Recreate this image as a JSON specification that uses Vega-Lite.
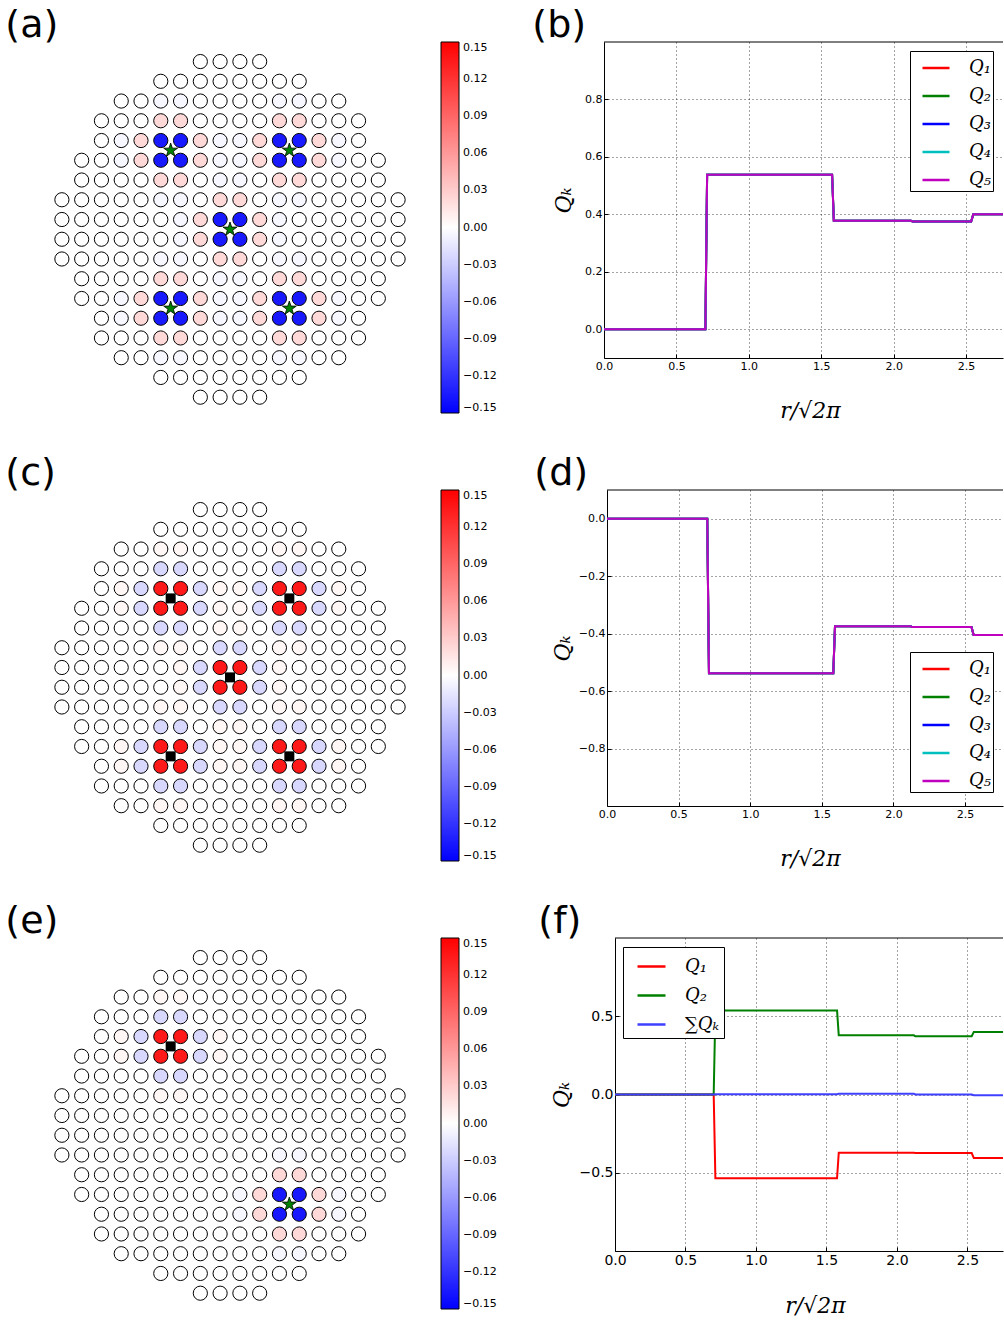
{
  "$schema": "https://vega.github.io/schema/vega-lite/v6.json",
  "padding": {"left": 5, "top": 6, "right": 0, "bottom": 0},
  "background": "white",
  "spacing": 33,
  "resolve": {"scale": {"fill": "independent", "color": "independent", "x": "independent", "y": "independent"}, "legend": {"fill": "independent", "color": "independent"}},
  "config": {
    "view": {"stroke": null},
    "font": "DejaVu Sans",
    "axis": {
      "domainColor": "black", "domainWidth": 1, "tickColor": "black", "tickSize": -4, "tickWidth": 1,
      "labelFont": "DejaVu Sans", "labelFontSize": 11, "labelColor": "black", "labelPadding": 6,
      "labelFlush": false, "labelOverlap": false,
      "grid": true, "gridColor": "black", "gridDash": [1, 3], "gridOpacity": 0.9, "gridWidth": 0.8,
      "titleFont": "DejaVu Serif", "titleFontStyle": "italic", "titleFontWeight": "normal", "titleFontSize": 22, "titleColor": "black"
    },
    "legend": {"labelColor": "black"}
  },
  "datasets": {
    "sites": [
      {"col":7,"row":0,"a":0,"c":0,"e":0},{"col":8,"row":0,"a":0,"c":0,"e":0},{"col":9,"row":0,"a":0,"c":0,"e":0},{"col":10,"row":0,"a":0,"c":0,"e":0},
      {"col":5,"row":1,"a":0,"c":0,"e":0},{"col":6,"row":1,"a":0,"c":0,"e":0},{"col":7,"row":1,"a":0,"c":0,"e":0},{"col":8,"row":1,"a":0,"c":0,"e":0},{"col":9,"row":1,"a":0,"c":0,"e":0},{"col":10,"row":1,"a":0,"c":0,"e":0},{"col":11,"row":1,"a":0,"c":0,"e":0},{"col":12,"row":1,"a":0,"c":0,"e":0},
      {"col":3,"row":2,"a":0,"c":0,"e":0},{"col":4,"row":2,"a":0,"c":0,"e":0},{"col":5,"row":2,"a":-0.005,"c":0.005,"e":0.005},{"col":6,"row":2,"a":-0.005,"c":0.005,"e":0.005},{"col":7,"row":2,"a":0,"c":0,"e":0},{"col":8,"row":2,"a":0,"c":0,"e":0},{"col":9,"row":2,"a":0,"c":0,"e":0},{"col":10,"row":2,"a":0,"c":0,"e":0},{"col":11,"row":2,"a":-0.005,"c":0.005,"e":0},{"col":12,"row":2,"a":-0.005,"c":0.005,"e":0},{"col":13,"row":2,"a":0,"c":0,"e":0},{"col":14,"row":2,"a":0,"c":0,"e":0},
      {"col":2,"row":3,"a":0,"c":0,"e":0},{"col":3,"row":3,"a":0,"c":0,"e":0},{"col":4,"row":3,"a":0,"c":0,"e":0},{"col":5,"row":3,"a":0.023,"c":-0.023,"e":-0.023},{"col":6,"row":3,"a":0.023,"c":-0.023,"e":-0.023},{"col":7,"row":3,"a":0,"c":0,"e":0},{"col":8,"row":3,"a":0,"c":0,"e":0},{"col":9,"row":3,"a":0,"c":0,"e":0},{"col":10,"row":3,"a":0,"c":0,"e":0},{"col":11,"row":3,"a":0.023,"c":-0.023,"e":0},{"col":12,"row":3,"a":0.023,"c":-0.023,"e":0},{"col":13,"row":3,"a":0,"c":0,"e":0},{"col":14,"row":3,"a":0,"c":0,"e":0},{"col":15,"row":3,"a":0,"c":0,"e":0},
      {"col":2,"row":4,"a":0,"c":0,"e":0},{"col":3,"row":4,"a":-0.005,"c":0.005,"e":0.005},{"col":4,"row":4,"a":0.023,"c":-0.023,"e":-0.023},{"col":5,"row":4,"a":-0.135,"c":0.135,"e":0.135},{"col":6,"row":4,"a":-0.135,"c":0.135,"e":0.135},{"col":7,"row":4,"a":0.023,"c":-0.023,"e":-0.023},{"col":8,"row":4,"a":-0.005,"c":0.005,"e":0.005},{"col":9,"row":4,"a":-0.005,"c":0.005,"e":0},{"col":10,"row":4,"a":0.023,"c":-0.023,"e":0},{"col":11,"row":4,"a":-0.135,"c":0.135,"e":0},{"col":12,"row":4,"a":-0.135,"c":0.135,"e":0},{"col":13,"row":4,"a":0.023,"c":-0.023,"e":0},{"col":14,"row":4,"a":-0.005,"c":0.005,"e":0},{"col":15,"row":4,"a":0,"c":0,"e":0},
      {"col":1,"row":5,"a":0,"c":0,"e":0},{"col":2,"row":5,"a":0,"c":0,"e":0},{"col":3,"row":5,"a":-0.005,"c":0.005,"e":0.005},{"col":4,"row":5,"a":0.023,"c":-0.023,"e":-0.023},{"col":5,"row":5,"a":-0.135,"c":0.135,"e":0.135},{"col":6,"row":5,"a":-0.135,"c":0.135,"e":0.135},{"col":7,"row":5,"a":0.023,"c":-0.023,"e":-0.023},{"col":8,"row":5,"a":-0.005,"c":0.005,"e":0.005},{"col":9,"row":5,"a":-0.005,"c":0.005,"e":0},{"col":10,"row":5,"a":0.023,"c":-0.023,"e":0},{"col":11,"row":5,"a":-0.135,"c":0.135,"e":0},{"col":12,"row":5,"a":-0.135,"c":0.135,"e":0},{"col":13,"row":5,"a":0.023,"c":-0.023,"e":0},{"col":14,"row":5,"a":-0.005,"c":0.005,"e":0},{"col":15,"row":5,"a":0,"c":0,"e":0},{"col":16,"row":5,"a":0,"c":0,"e":0},
      {"col":1,"row":6,"a":0,"c":0,"e":0},{"col":2,"row":6,"a":0,"c":0,"e":0},{"col":3,"row":6,"a":0,"c":0,"e":0},{"col":4,"row":6,"a":0,"c":0,"e":0},{"col":5,"row":6,"a":0.023,"c":-0.023,"e":-0.023},{"col":6,"row":6,"a":0.023,"c":-0.023,"e":-0.023},{"col":7,"row":6,"a":0,"c":0,"e":0},{"col":8,"row":6,"a":-0.005,"c":0.005,"e":0},{"col":9,"row":6,"a":-0.005,"c":0.005,"e":0},{"col":10,"row":6,"a":0,"c":0,"e":0},{"col":11,"row":6,"a":0.023,"c":-0.023,"e":0},{"col":12,"row":6,"a":0.023,"c":-0.023,"e":0},{"col":13,"row":6,"a":0,"c":0,"e":0},{"col":14,"row":6,"a":0,"c":0,"e":0},{"col":15,"row":6,"a":0,"c":0,"e":0},{"col":16,"row":6,"a":0,"c":0,"e":0},
      {"col":0,"row":7,"a":0,"c":0,"e":0},{"col":1,"row":7,"a":0,"c":0,"e":0},{"col":2,"row":7,"a":0,"c":0,"e":0},{"col":3,"row":7,"a":0,"c":0,"e":0},{"col":4,"row":7,"a":0,"c":0,"e":0},{"col":5,"row":7,"a":-0.005,"c":0.005,"e":0.005},{"col":6,"row":7,"a":-0.005,"c":0.005,"e":0.005},{"col":7,"row":7,"a":0,"c":0,"e":0},{"col":8,"row":7,"a":0.023,"c":-0.023,"e":0},{"col":9,"row":7,"a":0.023,"c":-0.023,"e":0},{"col":10,"row":7,"a":0,"c":0,"e":0},{"col":11,"row":7,"a":-0.005,"c":0.005,"e":0},{"col":12,"row":7,"a":-0.005,"c":0.005,"e":0},{"col":13,"row":7,"a":0,"c":0,"e":0},{"col":14,"row":7,"a":0,"c":0,"e":0},{"col":15,"row":7,"a":0,"c":0,"e":0},{"col":16,"row":7,"a":0,"c":0,"e":0},{"col":17,"row":7,"a":0,"c":0,"e":0},
      {"col":0,"row":8,"a":0,"c":0,"e":0},{"col":1,"row":8,"a":0,"c":0,"e":0},{"col":2,"row":8,"a":0,"c":0,"e":0},{"col":3,"row":8,"a":0,"c":0,"e":0},{"col":4,"row":8,"a":0,"c":0,"e":0},{"col":5,"row":8,"a":0,"c":0,"e":0},{"col":6,"row":8,"a":-0.005,"c":0.005,"e":0},{"col":7,"row":8,"a":0.023,"c":-0.023,"e":0},{"col":8,"row":8,"a":-0.135,"c":0.135,"e":0},{"col":9,"row":8,"a":-0.135,"c":0.135,"e":0},{"col":10,"row":8,"a":0.023,"c":-0.023,"e":0},{"col":11,"row":8,"a":-0.005,"c":0.005,"e":0},{"col":12,"row":8,"a":0,"c":0,"e":0},{"col":13,"row":8,"a":0,"c":0,"e":0},{"col":14,"row":8,"a":0,"c":0,"e":0},{"col":15,"row":8,"a":0,"c":0,"e":0},{"col":16,"row":8,"a":0,"c":0,"e":0},{"col":17,"row":8,"a":0,"c":0,"e":0},
      {"col":0,"row":9,"a":0,"c":0,"e":0},{"col":1,"row":9,"a":0,"c":0,"e":0},{"col":2,"row":9,"a":0,"c":0,"e":0},{"col":3,"row":9,"a":0,"c":0,"e":0},{"col":4,"row":9,"a":0,"c":0,"e":0},{"col":5,"row":9,"a":0,"c":0,"e":0},{"col":6,"row":9,"a":-0.005,"c":0.005,"e":0},{"col":7,"row":9,"a":0.023,"c":-0.023,"e":0},{"col":8,"row":9,"a":-0.135,"c":0.135,"e":0},{"col":9,"row":9,"a":-0.135,"c":0.135,"e":0},{"col":10,"row":9,"a":0.023,"c":-0.023,"e":0},{"col":11,"row":9,"a":-0.005,"c":0.005,"e":0},{"col":12,"row":9,"a":0,"c":0,"e":0},{"col":13,"row":9,"a":0,"c":0,"e":0},{"col":14,"row":9,"a":0,"c":0,"e":0},{"col":15,"row":9,"a":0,"c":0,"e":0},{"col":16,"row":9,"a":0,"c":0,"e":0},{"col":17,"row":9,"a":0,"c":0,"e":0},
      {"col":0,"row":10,"a":0,"c":0,"e":0},{"col":1,"row":10,"a":0,"c":0,"e":0},{"col":2,"row":10,"a":0,"c":0,"e":0},{"col":3,"row":10,"a":0,"c":0,"e":0},{"col":4,"row":10,"a":0,"c":0,"e":0},{"col":5,"row":10,"a":-0.005,"c":0.005,"e":0},{"col":6,"row":10,"a":-0.005,"c":0.005,"e":0},{"col":7,"row":10,"a":0,"c":0,"e":0},{"col":8,"row":10,"a":0.023,"c":-0.023,"e":0},{"col":9,"row":10,"a":0.023,"c":-0.023,"e":0},{"col":10,"row":10,"a":0,"c":0,"e":0},{"col":11,"row":10,"a":-0.005,"c":0.005,"e":-0.005},{"col":12,"row":10,"a":-0.005,"c":0.005,"e":-0.005},{"col":13,"row":10,"a":0,"c":0,"e":0},{"col":14,"row":10,"a":0,"c":0,"e":0},{"col":15,"row":10,"a":0,"c":0,"e":0},{"col":16,"row":10,"a":0,"c":0,"e":0},{"col":17,"row":10,"a":0,"c":0,"e":0},
      {"col":1,"row":11,"a":0,"c":0,"e":0},{"col":2,"row":11,"a":0,"c":0,"e":0},{"col":3,"row":11,"a":0,"c":0,"e":0},{"col":4,"row":11,"a":0,"c":0,"e":0},{"col":5,"row":11,"a":0.023,"c":-0.023,"e":0},{"col":6,"row":11,"a":0.023,"c":-0.023,"e":0},{"col":7,"row":11,"a":0,"c":0,"e":0},{"col":8,"row":11,"a":-0.005,"c":0.005,"e":0},{"col":9,"row":11,"a":-0.005,"c":0.005,"e":0},{"col":10,"row":11,"a":0,"c":0,"e":0},{"col":11,"row":11,"a":0.023,"c":-0.023,"e":0.023},{"col":12,"row":11,"a":0.023,"c":-0.023,"e":0.023},{"col":13,"row":11,"a":0,"c":0,"e":0},{"col":14,"row":11,"a":0,"c":0,"e":0},{"col":15,"row":11,"a":0,"c":0,"e":0},{"col":16,"row":11,"a":0,"c":0,"e":0},
      {"col":1,"row":12,"a":0,"c":0,"e":0},{"col":2,"row":12,"a":0,"c":0,"e":0},{"col":3,"row":12,"a":-0.005,"c":0.005,"e":0},{"col":4,"row":12,"a":0.023,"c":-0.023,"e":0},{"col":5,"row":12,"a":-0.135,"c":0.135,"e":0},{"col":6,"row":12,"a":-0.135,"c":0.135,"e":0},{"col":7,"row":12,"a":0.023,"c":-0.023,"e":0},{"col":8,"row":12,"a":-0.005,"c":0.005,"e":0},{"col":9,"row":12,"a":-0.005,"c":0.005,"e":-0.005},{"col":10,"row":12,"a":0.023,"c":-0.023,"e":0.023},{"col":11,"row":12,"a":-0.135,"c":0.135,"e":-0.135},{"col":12,"row":12,"a":-0.135,"c":0.135,"e":-0.135},{"col":13,"row":12,"a":0.023,"c":-0.023,"e":0.023},{"col":14,"row":12,"a":-0.005,"c":0.005,"e":-0.005},{"col":15,"row":12,"a":0,"c":0,"e":0},{"col":16,"row":12,"a":0,"c":0,"e":0},
      {"col":2,"row":13,"a":0,"c":0,"e":0},{"col":3,"row":13,"a":-0.005,"c":0.005,"e":0},{"col":4,"row":13,"a":0.023,"c":-0.023,"e":0},{"col":5,"row":13,"a":-0.135,"c":0.135,"e":0},{"col":6,"row":13,"a":-0.135,"c":0.135,"e":0},{"col":7,"row":13,"a":0.023,"c":-0.023,"e":0},{"col":8,"row":13,"a":-0.005,"c":0.005,"e":0},{"col":9,"row":13,"a":-0.005,"c":0.005,"e":-0.005},{"col":10,"row":13,"a":0.023,"c":-0.023,"e":0.023},{"col":11,"row":13,"a":-0.135,"c":0.135,"e":-0.135},{"col":12,"row":13,"a":-0.135,"c":0.135,"e":-0.135},{"col":13,"row":13,"a":0.023,"c":-0.023,"e":0.023},{"col":14,"row":13,"a":-0.005,"c":0.005,"e":-0.005},{"col":15,"row":13,"a":0,"c":0,"e":0},
      {"col":2,"row":14,"a":0,"c":0,"e":0},{"col":3,"row":14,"a":0,"c":0,"e":0},{"col":4,"row":14,"a":0,"c":0,"e":0},{"col":5,"row":14,"a":0.023,"c":-0.023,"e":0},{"col":6,"row":14,"a":0.023,"c":-0.023,"e":0},{"col":7,"row":14,"a":0,"c":0,"e":0},{"col":8,"row":14,"a":0,"c":0,"e":0},{"col":9,"row":14,"a":0,"c":0,"e":0},{"col":10,"row":14,"a":0,"c":0,"e":0},{"col":11,"row":14,"a":0.023,"c":-0.023,"e":0.023},{"col":12,"row":14,"a":0.023,"c":-0.023,"e":0.023},{"col":13,"row":14,"a":0,"c":0,"e":0},{"col":14,"row":14,"a":0,"c":0,"e":0},{"col":15,"row":14,"a":0,"c":0,"e":0},
      {"col":3,"row":15,"a":0,"c":0,"e":0},{"col":4,"row":15,"a":0,"c":0,"e":0},{"col":5,"row":15,"a":-0.005,"c":0.005,"e":0},{"col":6,"row":15,"a":-0.005,"c":0.005,"e":0},{"col":7,"row":15,"a":0,"c":0,"e":0},{"col":8,"row":15,"a":0,"c":0,"e":0},{"col":9,"row":15,"a":0,"c":0,"e":0},{"col":10,"row":15,"a":0,"c":0,"e":0},{"col":11,"row":15,"a":-0.005,"c":0.005,"e":-0.005},{"col":12,"row":15,"a":-0.005,"c":0.005,"e":-0.005},{"col":13,"row":15,"a":0,"c":0,"e":0},{"col":14,"row":15,"a":0,"c":0,"e":0},
      {"col":5,"row":16,"a":0,"c":0,"e":0},{"col":6,"row":16,"a":0,"c":0,"e":0},{"col":7,"row":16,"a":0,"c":0,"e":0},{"col":8,"row":16,"a":0,"c":0,"e":0},{"col":9,"row":16,"a":0,"c":0,"e":0},{"col":10,"row":16,"a":0,"c":0,"e":0},{"col":11,"row":16,"a":0,"c":0,"e":0},{"col":12,"row":16,"a":0,"c":0,"e":0},
      {"col":7,"row":17,"a":0,"c":0,"e":0},{"col":8,"row":17,"a":0,"c":0,"e":0},{"col":9,"row":17,"a":0,"c":0,"e":0},{"col":10,"row":17,"a":0,"c":0,"e":0}
    ],
    "markers": [
      {"panel":"a","kind":"star","col":5.5,"row":4.5},{"panel":"a","kind":"star","col":11.5,"row":4.5},{"panel":"a","kind":"star","col":8.5,"row":8.5},{"panel":"a","kind":"star","col":5.5,"row":12.5},{"panel":"a","kind":"star","col":11.5,"row":12.5},
      {"panel":"c","kind":"square","col":5.5,"row":4.5},{"panel":"c","kind":"square","col":11.5,"row":4.5},{"panel":"c","kind":"square","col":8.5,"row":8.5},{"panel":"c","kind":"square","col":5.5,"row":12.5},{"panel":"c","kind":"square","col":11.5,"row":12.5},
      {"panel":"e","kind":"square","col":5.5,"row":4.5},{"panel":"e","kind":"star","col":11.5,"row":12.5}
    ],
    "frameTop": [{"top": 1.0}],
    "frameTopD": [{"top": 0.1}],
    "qb": [
      {"k":"Q₁","r":0,"q":0},{"k":"Q₁","r":0.70,"q":0},{"k":"Q₁","r":0.712,"q":0.538},{"k":"Q₁","r":1.575,"q":0.538},{"k":"Q₁","r":1.587,"q":0.378},{"k":"Q₁","r":2.12,"q":0.378},{"k":"Q₁","r":2.13,"q":0.375},{"k":"Q₁","r":2.535,"q":0.375},{"k":"Q₁","r":2.55,"q":0.40},{"k":"Q₁","r":2.755,"q":0.40},
      {"k":"Q₂","r":0,"q":0},{"k":"Q₂","r":0.70,"q":0},{"k":"Q₂","r":0.712,"q":0.538},{"k":"Q₂","r":1.575,"q":0.538},{"k":"Q₂","r":1.587,"q":0.378},{"k":"Q₂","r":2.12,"q":0.378},{"k":"Q₂","r":2.13,"q":0.375},{"k":"Q₂","r":2.535,"q":0.375},{"k":"Q₂","r":2.55,"q":0.40},{"k":"Q₂","r":2.755,"q":0.40},
      {"k":"Q₃","r":0,"q":0},{"k":"Q₃","r":0.70,"q":0},{"k":"Q₃","r":0.712,"q":0.538},{"k":"Q₃","r":1.575,"q":0.538},{"k":"Q₃","r":1.587,"q":0.378},{"k":"Q₃","r":2.12,"q":0.378},{"k":"Q₃","r":2.13,"q":0.375},{"k":"Q₃","r":2.535,"q":0.375},{"k":"Q₃","r":2.55,"q":0.40},{"k":"Q₃","r":2.755,"q":0.40},
      {"k":"Q₄","r":0,"q":0},{"k":"Q₄","r":0.70,"q":0},{"k":"Q₄","r":0.712,"q":0.538},{"k":"Q₄","r":1.575,"q":0.538},{"k":"Q₄","r":1.587,"q":0.378},{"k":"Q₄","r":2.12,"q":0.378},{"k":"Q₄","r":2.13,"q":0.375},{"k":"Q₄","r":2.535,"q":0.375},{"k":"Q₄","r":2.55,"q":0.40},{"k":"Q₄","r":2.755,"q":0.40},
      {"k":"Q₅","r":0,"q":0},{"k":"Q₅","r":0.70,"q":0},{"k":"Q₅","r":0.712,"q":0.538},{"k":"Q₅","r":1.575,"q":0.538},{"k":"Q₅","r":1.587,"q":0.378},{"k":"Q₅","r":2.12,"q":0.378},{"k":"Q₅","r":2.13,"q":0.375},{"k":"Q₅","r":2.535,"q":0.375},{"k":"Q₅","r":2.55,"q":0.40},{"k":"Q₅","r":2.755,"q":0.40}
    ],
    "qd": [
      {"k":"Q₁","r":0,"q":0},{"k":"Q₁","r":0.70,"q":0},{"k":"Q₁","r":0.712,"q":-0.538},{"k":"Q₁","r":1.58,"q":-0.538},{"k":"Q₁","r":1.592,"q":-0.374},{"k":"Q₁","r":2.12,"q":-0.374},{"k":"Q₁","r":2.13,"q":-0.377},{"k":"Q₁","r":2.545,"q":-0.377},{"k":"Q₁","r":2.56,"q":-0.405},{"k":"Q₁","r":2.765,"q":-0.405},
      {"k":"Q₂","r":0,"q":0},{"k":"Q₂","r":0.70,"q":0},{"k":"Q₂","r":0.712,"q":-0.538},{"k":"Q₂","r":1.58,"q":-0.538},{"k":"Q₂","r":1.592,"q":-0.374},{"k":"Q₂","r":2.12,"q":-0.374},{"k":"Q₂","r":2.13,"q":-0.377},{"k":"Q₂","r":2.545,"q":-0.377},{"k":"Q₂","r":2.56,"q":-0.405},{"k":"Q₂","r":2.765,"q":-0.405},
      {"k":"Q₃","r":0,"q":0},{"k":"Q₃","r":0.70,"q":0},{"k":"Q₃","r":0.712,"q":-0.538},{"k":"Q₃","r":1.58,"q":-0.538},{"k":"Q₃","r":1.592,"q":-0.374},{"k":"Q₃","r":2.12,"q":-0.374},{"k":"Q₃","r":2.13,"q":-0.377},{"k":"Q₃","r":2.545,"q":-0.377},{"k":"Q₃","r":2.56,"q":-0.405},{"k":"Q₃","r":2.765,"q":-0.405},
      {"k":"Q₄","r":0,"q":0},{"k":"Q₄","r":0.70,"q":0},{"k":"Q₄","r":0.712,"q":-0.538},{"k":"Q₄","r":1.58,"q":-0.538},{"k":"Q₄","r":1.592,"q":-0.374},{"k":"Q₄","r":2.12,"q":-0.374},{"k":"Q₄","r":2.13,"q":-0.377},{"k":"Q₄","r":2.545,"q":-0.377},{"k":"Q₄","r":2.56,"q":-0.405},{"k":"Q₄","r":2.765,"q":-0.405},
      {"k":"Q₅","r":0,"q":0},{"k":"Q₅","r":0.70,"q":0},{"k":"Q₅","r":0.712,"q":-0.538},{"k":"Q₅","r":1.58,"q":-0.538},{"k":"Q₅","r":1.592,"q":-0.374},{"k":"Q₅","r":2.12,"q":-0.374},{"k":"Q₅","r":2.13,"q":-0.377},{"k":"Q₅","r":2.545,"q":-0.377},{"k":"Q₅","r":2.56,"q":-0.405},{"k":"Q₅","r":2.765,"q":-0.405}
    ],
    "qf": [
      {"k":"Q₁","r":0,"q":0},{"k":"Q₁","r":0.70,"q":0},{"k":"Q₁","r":0.712,"q":-0.535},{"k":"Q₁","r":1.575,"q":-0.535},{"k":"Q₁","r":1.587,"q":-0.372},{"k":"Q₁","r":2.12,"q":-0.372},{"k":"Q₁","r":2.13,"q":-0.374},{"k":"Q₁","r":2.53,"q":-0.374},{"k":"Q₁","r":2.545,"q":-0.406},{"k":"Q₁","r":2.752,"q":-0.406},
      {"k":"Q₂","r":0,"q":0},{"k":"Q₂","r":0.70,"q":0},{"k":"Q₂","r":0.712,"q":0.537},{"k":"Q₂","r":1.575,"q":0.537},{"k":"Q₂","r":1.587,"q":0.378},{"k":"Q₂","r":2.12,"q":0.378},{"k":"Q₂","r":2.13,"q":0.372},{"k":"Q₂","r":2.53,"q":0.372},{"k":"Q₂","r":2.545,"q":0.40},{"k":"Q₂","r":2.752,"q":0.40},
      {"k":"∑Qₖ","r":0,"q":0},{"k":"∑Qₖ","r":0.70,"q":0},{"k":"∑Qₖ","r":0.712,"q":0.002},{"k":"∑Qₖ","r":1.575,"q":0.002},{"k":"∑Qₖ","r":1.587,"q":0.004},{"k":"∑Qₖ","r":2.12,"q":0.004},{"k":"∑Qₖ","r":2.13,"q":0.0},{"k":"∑Qₖ","r":2.53,"q":0.0},{"k":"∑Qₖ","r":2.545,"q":-0.004},{"k":"∑Qₖ","r":2.752,"q":-0.004}
    ]
  },
  "vconcat": [
    {
      "bounds": "flush", "spacing": 196,
      "resolve": {"scale": {"fill": "independent", "color": "independent", "x": "independent", "y": "independent"}, "legend": {"fill": "independent", "color": "independent"}},
      "hconcat": [
        {
          "width": 356, "height": 371,
          "title": {"text": "(a)", "anchor": "start", "frame": "group", "dx": -46.7, "dy": 38, "offset": 5, "baseline": "alphabetic", "fontSize": 38, "fontWeight": "normal", "font": "DejaVu Sans", "color": "black"},
          "layer": [
            {"data": {"name": "sites"}, "mark": {"type": "point", "shape": "circle", "filled": true, "size": 201, "stroke": "black", "strokeWidth": 1, "opacity": 1},
             "encoding": {
               "x": {"field": "col", "type": "quantitative", "scale": {"domain": [-0.5, 17.5], "nice": false, "zero": false}, "axis": null},
               "y": {"field": "row", "type": "quantitative", "scale": {"domain": [-0.99, 17.8], "reverse": true, "nice": false, "zero": false}, "axis": null},
               "fill": {"field": "a", "type": "quantitative", "scale": {"domain": [-0.15, 0, 0.15], "range": ["#0000ff", "#ffffff", "#ff0000"], "clamp": true, "interpolate": "rgb"},
                 "legend": {"orient": "none", "legendX": 389, "legendY": 0, "direction": "vertical", "title": null, "gradientLength": 371, "gradientThickness": 18, "gradientStrokeColor": "black", "gradientStrokeWidth": 1, "values": [-0.15, -0.12, -0.09, -0.06, -0.03, 0, 0.03, 0.06, 0.09, 0.12, 0.15], "format": ".2f", "labelFont": "DejaVu Sans", "labelFontSize": 11, "labelOffset": 4, "labelOverlap": false, "padding": 0}}
             }},
            {"data": {"name": "markers"}, "transform": [{"filter": "datum.panel === 'a' && datum.kind === 'star'"}],
             "mark": {"type": "point", "filled": true, "shape": "M0,-1L0.2245,-0.309L0.951,-0.309L0.3633,0.118L0.588,0.809L0,0.382L-0.588,0.809L-0.3633,0.118L-0.951,-0.309L-0.2245,-0.309Z", "size": 216, "fill": "#008000", "stroke": "black", "strokeWidth": 0.8, "opacity": 1},
             "encoding": {"x": {"field": "col", "type": "quantitative"}, "y": {"field": "row", "type": "quantitative"}}}
          ]
        },
        {
          "width": 399, "height": 316,
          "title": {"text": "(b)", "anchor": "start", "frame": "group", "dx": -71.7, "dy": 38, "offset": 5, "baseline": "alphabetic", "fontSize": 38, "fontWeight": "normal", "font": "DejaVu Sans", "color": "black"},
          "layer": [
            {"data": {"name": "frameTop"}, "mark": {"type": "rule", "color": "black", "strokeWidth": 1}, "encoding": {"y": {"field": "top", "type": "quantitative"}}},
            {"data": {"name": "qb"}, "mark": {"type": "line", "strokeWidth": 2},
             "encoding": {
               "x": {"field": "r", "type": "quantitative", "scale": {"domain": [0, 2.755], "nice": false, "zero": false}, "axis": {"values": [0, 0.5, 1, 1.5, 2, 2.5], "format": ".1f", "title": "r/√2π", "titleX": 206, "titleY": 42, "titleBaseline": "top"}},
               "y": {"field": "q", "type": "quantitative", "scale": {"domain": [-0.1, 1.0], "nice": false, "zero": false}, "axis": {"values": [0, 0.2, 0.4, 0.6, 0.8], "format": ".1f", "title": "Qₖ", "titlePadding": 9}},
               "color": {"field": "k", "type": "nominal", "scale": {"domain": ["Q₁", "Q₂", "Q₃", "Q₄", "Q₅"], "range": ["#ff0000", "#008000", "#0000ff", "#00bfbf", "#bf00bf"]},
                 "legend": {"orient": "none", "legendX": 306, "legendY": 9, "direction": "vertical", "title": null, "symbolType": "stroke", "symbolSize": 729, "symbolStrokeWidth": 2.5, "symbolOffset": 9, "labelFont": "DejaVu Serif", "labelFontStyle": "italic", "labelFontSize": 18, "labelOffset": 18, "rowPadding": 4, "padding": 2, "strokeColor": "black", "fillColor": "white", "cornerRadius": 0}}
             }}
          ]
        }
      ]
    },
    {
      "bounds": "flush", "spacing": 199,
      "resolve": {"scale": {"fill": "independent", "color": "independent", "x": "independent", "y": "independent"}, "legend": {"fill": "independent", "color": "independent"}},
      "hconcat": [
        {
          "width": 356, "height": 371,
          "title": {"text": "(c)", "anchor": "start", "frame": "group", "dx": -46.7, "dy": 38, "offset": 5, "baseline": "alphabetic", "fontSize": 38, "fontWeight": "normal", "font": "DejaVu Sans", "color": "black"},
          "layer": [
            {"data": {"name": "sites"}, "mark": {"type": "point", "shape": "circle", "filled": true, "size": 201, "stroke": "black", "strokeWidth": 1, "opacity": 1},
             "encoding": {
               "x": {"field": "col", "type": "quantitative", "scale": {"domain": [-0.5, 17.5], "nice": false, "zero": false}, "axis": null},
               "y": {"field": "row", "type": "quantitative", "scale": {"domain": [-0.99, 17.8], "reverse": true, "nice": false, "zero": false}, "axis": null},
               "fill": {"field": "c", "type": "quantitative", "scale": {"domain": [-0.15, 0, 0.15], "range": ["#0000ff", "#ffffff", "#ff0000"], "clamp": true, "interpolate": "rgb"},
                 "legend": {"orient": "none", "legendX": 389, "legendY": 0, "direction": "vertical", "title": null, "gradientLength": 371, "gradientThickness": 18, "gradientStrokeColor": "black", "gradientStrokeWidth": 1, "values": [-0.15, -0.12, -0.09, -0.06, -0.03, 0, 0.03, 0.06, 0.09, 0.12, 0.15], "format": ".2f", "labelFont": "DejaVu Sans", "labelFontSize": 11, "labelOffset": 4, "labelOverlap": false, "padding": 0}}
             }},
            {"data": {"name": "markers"}, "transform": [{"filter": "datum.panel === 'c' && datum.kind === 'square'"}],
             "mark": {"type": "point", "filled": true, "shape": "square", "size": 100, "fill": "black", "strokeWidth": 0, "opacity": 1},
             "encoding": {"x": {"field": "col", "type": "quantitative"}, "y": {"field": "row", "type": "quantitative"}}}
          ]
        },
        {
          "width": 396, "height": 316,
          "title": {"text": "(d)", "anchor": "start", "frame": "group", "dx": -72.7, "dy": 38, "offset": 5, "baseline": "alphabetic", "fontSize": 38, "fontWeight": "normal", "font": "DejaVu Sans", "color": "black"},
          "layer": [
            {"data": {"name": "frameTopD"}, "mark": {"type": "rule", "color": "black", "strokeWidth": 1}, "encoding": {"y": {"field": "top", "type": "quantitative"}}},
            {"data": {"name": "qd"}, "mark": {"type": "line", "strokeWidth": 2},
             "encoding": {
               "x": {"field": "r", "type": "quantitative", "scale": {"domain": [0, 2.765], "nice": false, "zero": false}, "axis": {"values": [0, 0.5, 1, 1.5, 2, 2.5], "format": ".1f", "title": "r/√2π", "titleX": 203, "titleY": 42, "titleBaseline": "top"}},
               "y": {"field": "q", "type": "quantitative", "scale": {"domain": [-1.0, 0.1], "nice": false, "zero": false}, "axis": {"values": [0, -0.2, -0.4, -0.6, -0.8], "format": ".1f", "title": "Qₖ", "titlePadding": 4}},
               "color": {"field": "k", "type": "nominal", "scale": {"domain": ["Q₁", "Q₂", "Q₃", "Q₄", "Q₅"], "range": ["#ff0000", "#008000", "#0000ff", "#00bfbf", "#bf00bf"]},
                 "legend": {"orient": "none", "legendX": 303, "legendY": 162, "direction": "vertical", "title": null, "symbolType": "stroke", "symbolSize": 729, "symbolStrokeWidth": 2.5, "symbolOffset": 9, "labelFont": "DejaVu Serif", "labelFontStyle": "italic", "labelFontSize": 18, "labelOffset": 18, "rowPadding": 4, "padding": 2, "strokeColor": "black", "fillColor": "white", "cornerRadius": 0}}
             }}
          ]
        }
      ]
    },
    {
      "bounds": "flush", "spacing": 207,
      "resolve": {"scale": {"fill": "independent", "color": "independent", "x": "independent", "y": "independent"}, "legend": {"fill": "independent", "color": "independent"}},
      "hconcat": [
        {
          "width": 356, "height": 371,
          "title": {"text": "(e)", "anchor": "start", "frame": "group", "dx": -46.7, "dy": 38, "offset": 5, "baseline": "alphabetic", "fontSize": 38, "fontWeight": "normal", "font": "DejaVu Sans", "color": "black"},
          "layer": [
            {"data": {"name": "sites"}, "mark": {"type": "point", "shape": "circle", "filled": true, "size": 201, "stroke": "black", "strokeWidth": 1, "opacity": 1},
             "encoding": {
               "x": {"field": "col", "type": "quantitative", "scale": {"domain": [-0.5, 17.5], "nice": false, "zero": false}, "axis": null},
               "y": {"field": "row", "type": "quantitative", "scale": {"domain": [-0.99, 17.8], "reverse": true, "nice": false, "zero": false}, "axis": null},
               "fill": {"field": "e", "type": "quantitative", "scale": {"domain": [-0.15, 0, 0.15], "range": ["#0000ff", "#ffffff", "#ff0000"], "clamp": true, "interpolate": "rgb"},
                 "legend": {"orient": "none", "legendX": 389, "legendY": 0, "direction": "vertical", "title": null, "gradientLength": 371, "gradientThickness": 18, "gradientStrokeColor": "black", "gradientStrokeWidth": 1, "values": [-0.15, -0.12, -0.09, -0.06, -0.03, 0, 0.03, 0.06, 0.09, 0.12, 0.15], "format": ".2f", "labelFont": "DejaVu Sans", "labelFontSize": 11, "labelOffset": 4, "labelOverlap": false, "padding": 0}}
             }},
            {"data": {"name": "markers"}, "transform": [{"filter": "datum.panel === 'e' && datum.kind === 'square'"}],
             "mark": {"type": "point", "filled": true, "shape": "square", "size": 100, "fill": "black", "strokeWidth": 0, "opacity": 1},
             "encoding": {"x": {"field": "col", "type": "quantitative"}, "y": {"field": "row", "type": "quantitative"}}},
            {"data": {"name": "markers"}, "transform": [{"filter": "datum.panel === 'e' && datum.kind === 'star'"}],
             "mark": {"type": "point", "filled": true, "shape": "M0,-1L0.2245,-0.309L0.951,-0.309L0.3633,0.118L0.588,0.809L0,0.382L-0.588,0.809L-0.3633,0.118L-0.951,-0.309L-0.2245,-0.309Z", "size": 216, "fill": "#008000", "stroke": "black", "strokeWidth": 0.8, "opacity": 1},
             "encoding": {"x": {"field": "col", "type": "quantitative"}, "y": {"field": "row", "type": "quantitative"}}}
          ]
        },
        {
          "width": 388, "height": 313,
          "title": {"text": "(f)", "anchor": "start", "frame": "group", "dx": -76.7, "dy": 38, "offset": 5, "baseline": "alphabetic", "fontSize": 38, "fontWeight": "normal", "font": "DejaVu Sans", "color": "black"},
          "layer": [
            {"data": {"name": "frameTop"}, "mark": {"type": "rule", "color": "black", "strokeWidth": 1}, "encoding": {"y": {"field": "top", "type": "quantitative"}}},
            {"data": {"name": "qf"}, "mark": {"type": "line", "strokeWidth": 2},
             "encoding": {
               "x": {"field": "r", "type": "quantitative", "scale": {"domain": [0, 2.752], "nice": false, "zero": false}, "axis": {"values": [0, 0.5, 1, 1.5, 2, 2.5], "format": ".1f", "labelFontSize": 14, "title": "r/√2π", "titleX": 200, "titleY": 44, "titleBaseline": "top"}},
               "y": {"field": "q", "type": "quantitative", "scale": {"domain": [-1.0, 1.0], "nice": false, "zero": false}, "axis": {"values": [-0.5, 0, 0.5], "format": ".1f", "labelFontSize": 14, "title": "Qₖ", "titlePadding": 6}},
               "color": {"field": "k", "type": "nominal", "scale": {"domain": ["Q₁", "Q₂", "∑Qₖ"], "range": ["#ff0000", "#008000", "#3f3fff"]},
                 "legend": {"orient": "none", "legendX": 8, "legendY": 9, "direction": "vertical", "title": null, "symbolType": "stroke", "symbolSize": 784, "symbolStrokeWidth": 2.5, "symbolOffset": 9, "labelFont": "DejaVu Serif", "labelFontStyle": "italic", "labelFontSize": 18, "labelOffset": 18, "rowPadding": 4, "padding": 4, "strokeColor": "black", "fillColor": "white", "cornerRadius": 0}}
             }}
          ]
        }
      ]
    }
  ]
}
